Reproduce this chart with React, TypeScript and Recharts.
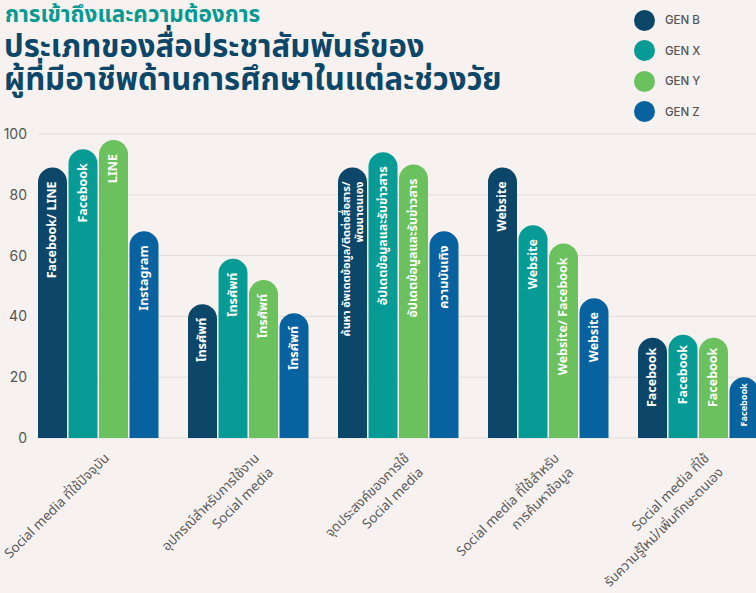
import React from "react";
import { BarChart, Bar, XAxis, YAxis, CartesianGrid, LabelList } from "recharts";

const categories = [
  ["Social media ที่ใช้ปัจจุบัน"],
  ["อุปกรณ์สำหรับการใช้งาน", "Social media"],
  ["จุดประสงค์ของการใช้", "Social media"],
  ["Social media ที่ใช้สำหรับ", "การค้นหาข้อมูล"],
  ["Social media ที่ใช้", "รับความรู้ใหม่/เพิ่มทักษะตนเอง"],
];

const genB = [89, 44, 89, 89, 33];
const genX = [95, 59, 94, 70, 34];
const genY = [98, 52, 90, 64, 33];
const genZ = [68, 41, 68, 46, 20];

const labelB = ["Facebook/ LINE", "โทรศัพท์", "ค้นหา อัพเดตข้อมูล/ติดต่อสื่อสาร/\nพัฒนาตนเอง", "Website", "Facebook"];
const labelX = ["Facebook", "โทรศัพท์", "อัปเดตข้อมูลและรับข่าวสาร", "Website", "Facebook"];
const labelY = ["LINE", "โทรศัพท์", "อัปเดตข้อมูลและรับข่าวสาร", "Website/ Facebook", "Facebook"];
const labelZ = ["Instagram", "โทรศัพท์", "ความบันเทิง", "Website", "Facebook"];

const yTicks = [0, 20, 40, 60, 80, 100];

const series = [
  { key: "genB", label: "labelB", name: "GEN B", color: "#0c4668" },
  { key: "genX", label: "labelX", name: "GEN X", color: "#069b94" },
  { key: "genY", label: "labelY", name: "GEN Y", color: "#6bc15d" },
  { key: "genZ", label: "labelZ", name: "GEN Z", color: "#07629f" },
];

const data = categories.map((c, i) => ({
  category: c.join("\n"),
  genB: genB[i],
  genX: genX[i],
  genY: genY[i],
  genZ: genZ[i],
  labelB: labelB[i],
  labelX: labelX[i],
  labelY: labelY[i],
  labelZ: labelZ[i],
}));

const FONT = "'Noto Sans Thai', 'Noto Sans', Inter, Arial, sans-serif";

function BarText(props: any) {
  const { x, y, width, height, value } = props;
  if (!value) return null;
  const lines = String(value).split("\n");
  const fs = Math.min(12.5, height * 0.15);
  const cx = x + width / 2;
  const top = y + Math.min(14, height * 0.1);
  const step = 13;
  const start = -((lines.length - 1) * step) / 2;
  return (
    <g transform={`translate(${cx},${top}) rotate(-90)`}>
      {lines.map((l, i) => (
        <text
          key={i}
          x={0}
          y={start + i * step}
          textAnchor="end"
          dominantBaseline="central"
          fill="#ffffff"
          fontSize={lines.length > 1 ? 11 : fs}
          fontWeight={700}
          fontFamily={FONT}
        >
          {l}
        </text>
      ))}
    </g>
  );
}

function CategoryTick(props: any) {
  const { x, y, payload } = props;
  const lines = String(payload.value).split("\n");
  return (
    <g transform={`translate(${x + 12},${y + 19}) rotate(-45)`}>
      {lines.map((l, i) => (
        <text key={i} x={0} y={i * 20} textAnchor="end" fill="#5b5b5b" fontSize={13.5} fontFamily={FONT}>
          {l}
        </text>
      ))}
    </g>
  );
}

function LegendBox() {
  return (
    <div style={{ position: "absolute", left: 634, top: 5 }}>
      {series.map((s) => (
        <div key={s.key} style={{ display: "flex", alignItems: "center", height: 30.5 }}>
          <span
            style={{ width: 21, height: 21, borderRadius: "50%", background: s.color, display: "inline-block" }}
          />
          <span
            style={{ marginLeft: 10, fontSize: 11.5, color: "#555", fontWeight: 500, fontFamily: "Inter, Arial, sans-serif" }}
          >
            {s.name}
          </span>
        </div>
      ))}
    </div>
  );
}

const titleLine = { position: "absolute" as const, left: 4, fontWeight: 700, whiteSpace: "nowrap" as const };

export default function App() {
  return (
    <div
      style={{
        position: "fixed",
        left: 0,
        top: 0,
        width: 756,
        height: 593,
        overflow: "hidden",
        background: "#f7f2f0",
        fontFamily: FONT,
      }}
    >
      <div style={{ ...titleLine, left: 5, top: 1, height: 28, lineHeight: "28px", color: "#079a93", fontSize: 22.5 }}>
        การเข้าถึงและความต้องการ
      </div>
      <div style={{ ...titleLine, top: 32, height: 32, lineHeight: "32px", color: "#0c4668", fontSize: 31 }}>
        ประเภทของสื่อประชาสัมพันธ์ของ
      </div>
      <div style={{ ...titleLine, top: 65, height: 32, lineHeight: "32px", color: "#0c4668", fontSize: 31 }}>
        ผู้ที่มีอาชีพด้านการศึกษาในแต่ละช่วงวัย
      </div>
      <LegendBox />
      <div style={{ position: "absolute", left: 0, top: 0 }}>
        <BarChart
          width={773}
          height={593}
          data={data}
          margin={{ top: 134, right: 0, bottom: 0, left: 0 }}
          barCategoryGap={15}
          barGap={1.5}
        >
          <CartesianGrid vertical={false} stroke="#e3dcd9" x={38} width={735} />
          <XAxis
            dataKey="category"
            interval={0}
            tickLine={false}
            axisLine={false}
            tickSize={0}
            height={155}
            tick={<CategoryTick />}
          />
          <YAxis
            width={23}
            domain={[0, 100]}
            ticks={yTicks}
            tickLine={false}
            axisLine={false}
            tickSize={0}
            tickMargin={0}
            tick={{ fill: "#555", fontSize: 14, dx: 4, fontFamily: "Inter, Arial, sans-serif" }}
          />
          {series.map((s) => (
            <Bar
              key={s.key}
              dataKey={s.key}
              name={s.name}
              fill={s.color}
              radius={[15, 15, 0, 0]}
              isAnimationActive={false}
            >
              <LabelList dataKey={s.label} content={<BarText />} />
            </Bar>
          ))}
        </BarChart>
      </div>
    </div>
  );
}
